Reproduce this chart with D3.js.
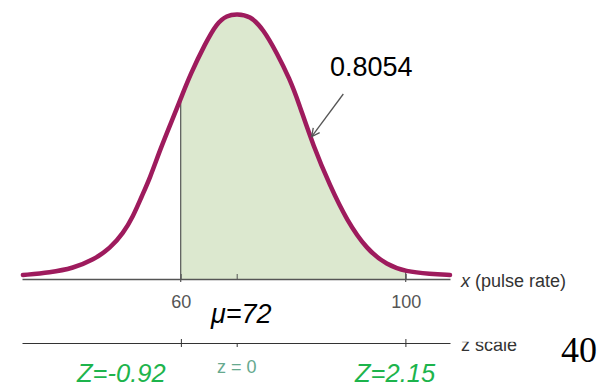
<!DOCTYPE html>
<html>
<head>
  <meta charset="utf-8">
  <title>Normal curve - pulse rate</title>
  <script src="https://cdn.jsdelivr.net/npm/d3@7"></script>
  <style>
    body { margin: 0; background: #fff; }
    svg { display: block; font-family: Arial, "Liberation Sans", sans-serif; }
  </style>
</head>
<body>
<script>
// values
var mu = 72, sigma = 13;
var xBreaks = [26, 60, 72, 100, 107.4];   // axis ends and tick points (pulse rate)
var tickX = [60, 72, 100];
var tickZ = [-0.92, 0, 2.15];
var shadeFrom = 60, shadeTo = 100;
var area = "0.8054";

// curve: pulse rate and relative height (1 = peak)
var curveX = [26.2, 32, 37, 41.3, 44.9, 47.7, 49.8, 51.6, 53.4, 55.6, 58.4, 60, 62, 65.3, 67.7, 69.9, 72,
              74.2, 76.4, 78.6, 80.8, 82.2, 84.7, 87.5, 90.2, 93.6, 96.9, 100, 104.1, 107.4];
var curveH = [0.015, 0.024, 0.041, 0.072, 0.116, 0.173, 0.236, 0.31, 0.38, 0.489, 0.61, 0.68, 0.77, 0.89, 0.965, 0.995, 1,
              0.994, 0.943, 0.855, 0.754, 0.67, 0.501, 0.35, 0.223, 0.11, 0.053, 0.028, 0.019, 0.015];

var width = 605, height = 387;
var axisY = 279, zAxisY = 343;
var xRange = [22, 180.7, 236.7, 405.7, 450];

var svg = d3.select("body").append("svg").attr("width", width).attr("height", height);

// scales (the figure is not drawn to a single linear scale, so it is piecewise)
var x = d3.scaleLinear().domain(xBreaks).range(xRange);
var z = d3.scaleLinear().domain(xBreaks.map(function(v) { return (v - mu) / sigma; })).range(xRange);
var y = d3.scaleLinear().domain([0, 1]).range([axisY, 14]);

var pts = curveX.map(function(v, i) { return [v, curveH[i]]; });
var shaded = pts.filter(function(d) { return d[0] >= shadeFrom && d[0] <= shadeTo; });

// shaded area
svg.append("path")
  .datum(shaded)
  .attr("fill", "#dce8cf")
  .attr("d", d3.area()
    .x(function(d) { return x(d[0]); })
    .y0(y(0))
    .y1(function(d) { return y(d[1]); })
    .curve(d3.curveBasis));

// vertical lines at the bounds
[shadeFrom, shadeTo].forEach(function(v) {
  var h = curveH[curveX.indexOf(v)];
  svg.append("line")
    .attr("x1", x(v)).attr("x2", x(v))
    .attr("y1", y(0) + 3).attr("y2", y(h))
    .attr("stroke", "#555").attr("stroke-width", 1.2);
});

// curve
svg.append("path")
  .datum(pts)
  .attr("fill", "none")
  .attr("stroke", "#9e1b5d")
  .attr("stroke-width", 4.5)
  .attr("stroke-linecap", "round")
  .attr("d", d3.line()
    .x(function(d) { return x(d[0]); })
    .y(function(d) { return y(d[1]); })
    .curve(d3.curveBasis));

// x axis
var gx = svg.append("g")
  .attr("transform", "translate(0," + axisY + ")")
  .style("color", "#555")
  .call(d3.axisBottom(x).tickValues(tickX).tickSizeInner(-5).tickSizeOuter(0).tickPadding(16)
    .tickFormat(function(d) { return d === mu ? "" : d; }));
gx.attr("font-size", 18).attr("font-family", "Arial, 'Liberation Sans', sans-serif");
gx.select(".domain").attr("stroke-width", 1.5);

svg.append("text")
  .attr("x", 461).attr("y", 287)
  .attr("font-size", 18).attr("fill", "#333")
  .html('<tspan font-style="italic">x</tspan> (pulse rate)');

svg.append("text")
  .attr("x", 211).attr("y", 323)
  .attr("font-size", 27).attr("font-style", "italic").attr("fill", "#000")
  .text("\u03bc=" + mu);

// z scale
var gz = svg.append("g")
  .attr("transform", "translate(0," + zAxisY + ")")
  .style("color", "#333")
  .call(d3.axisBottom(z).tickValues(tickZ).tickSizeInner(4).tickSizeOuter(0).tickFormat(""));
gz.select(".domain").attr("stroke-width", 1.2);
svg.append("g")
  .attr("transform", "translate(0," + zAxisY + ")")
  .style("color", "#333")
  .call(d3.axisTop(z).tickValues([tickZ[0], tickZ[2]]).tickSizeInner(4).tickSizeOuter(0).tickFormat(""))
  .select(".domain").remove();

svg.append("text")
  .attr("x", 461).attr("y", 351)
  .attr("font-size", 18).attr("fill", "#333")
  .text("z scale");
// the label is partly covered in the original figure
svg.append("rect")
  .attr("x", 456).attr("y", 326).attr("width", 70).attr("height", 15.8)
  .attr("fill", "#fff");

svg.append("text")
  .attr("x", z(0)).attr("y", 373)
  .attr("text-anchor", "middle")
  .attr("font-size", 18).attr("fill", "#66a98e")
  .attr("xml:space", "preserve")
  .text("z = 0");

svg.append("text")
  .attr("x", 77).attr("y", 382)
  .attr("font-size", 25.5).attr("font-style", "italic").attr("fill", "#1db44c")
  .text("Z=" + tickZ[0]);
svg.append("text")
  .attr("x", 355).attr("y", 382)
  .attr("font-size", 25.5).attr("font-style", "italic").attr("fill", "#1db44c")
  .text("Z=" + tickZ[2]);

// annotation
svg.append("defs").append("marker")
  .attr("id", "head")
  .attr("viewBox", "0 0 10 10")
  .attr("refX", 9).attr("refY", 5)
  .attr("markerWidth", 10).attr("markerHeight", 10)
  .attr("markerUnits", "userSpaceOnUse")
  .attr("orient", "auto")
  .append("path")
  .attr("d", "M1,1 L9,5 L1,9")
  .attr("fill", "none").attr("stroke", "#555").attr("stroke-width", 1.3);

svg.append("line")
  .attr("x1", 343.3).attr("y1", 94)
  .attr("x2", 311.7).attr("y2", 136.7)
  .attr("stroke", "#555").attr("stroke-width", 1.3)
  .attr("marker-end", "url(#head)");

svg.append("text")
  .attr("x", 330).attr("y", 76)
  .attr("font-size", 27).attr("fill", "#000")
  .text(area);

svg.append("text")
  .attr("x", 561).attr("y", 362)
  .attr("font-size", 36).attr("font-family", "'Liberation Serif', 'Times New Roman', serif").attr("fill", "#000")
  .text("40");
</script>
</body>
</html>
